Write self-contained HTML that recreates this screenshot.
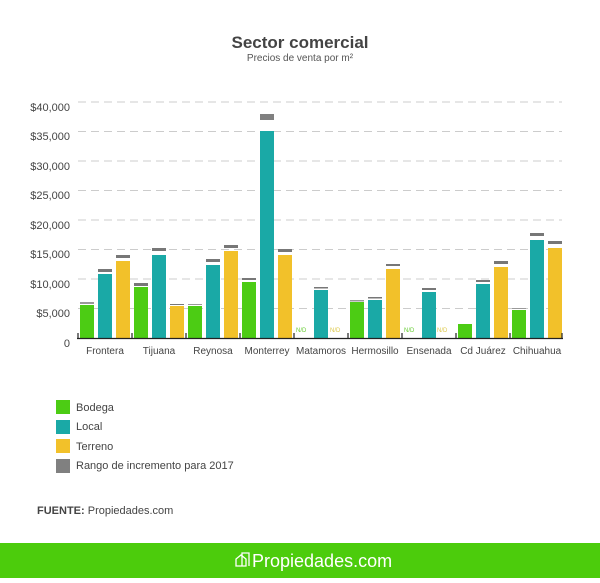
<!DOCTYPE html>
<html><head><meta charset="utf-8"><style>
body{margin:0;background:#fff;width:600px;height:578px;overflow:hidden;font-family:"Liberation Sans",sans-serif}
</style></head><body>
<svg width="600" height="578" xmlns="http://www.w3.org/2000/svg" font-family="Liberation Sans, sans-serif">
<text x="300" y="48" text-anchor="middle" font-size="17" font-weight="bold" fill="#444">Sector comercial</text>
<text x="300" y="61" text-anchor="middle" font-size="10" fill="#555">Precios de venta por m²</text>
<g stroke="#ccc" stroke-dasharray="8,5" stroke-width="1">
<line x1="78" x2="562" y1="102" y2="102"/><line x1="78" x2="562" y1="131.5" y2="131.5"/>
<line x1="78" x2="562" y1="161" y2="161"/><line x1="78" x2="562" y1="190.5" y2="190.5"/>
<line x1="78" x2="562" y1="220" y2="220"/><line x1="78" x2="562" y1="249.5" y2="249.5"/>
<line x1="78" x2="562" y1="279" y2="279"/><line x1="78" x2="562" y1="308.5" y2="308.5"/>
</g>
<g font-size="11" fill="#444" text-anchor="end">
<text x="70" y="111">$40,000</text><text x="70" y="140">$35,000</text><text x="70" y="170">$30,000</text>
<text x="70" y="199">$25,000</text><text x="70" y="229">$20,000</text><text x="70" y="258">$15,000</text>
<text x="70" y="288">$10,000</text><text x="70" y="317">$5,000</text><text x="70" y="347">0</text>
</g>
<g id="bars">
<!-- Frontera gx=78 -->
<rect x="80" y="305" width="14" height="33" fill="#4ccc14"/><rect x="80" y="302" width="14" height="2" fill="#999"/>
<rect x="98" y="274" width="14" height="64" fill="#1aa9a6"/><rect x="98" y="269" width="14" height="3" fill="#777"/>
<rect x="116" y="261" width="14" height="77" fill="#f2c12a"/><rect x="116" y="255" width="14" height="3" fill="#777"/>
<!-- Tijuana gx=132 -->
<rect x="134" y="287" width="14" height="51" fill="#4ccc14"/><rect x="134" y="283" width="14" height="3" fill="#777"/>
<rect x="152" y="255" width="14" height="83" fill="#1aa9a6"/><rect x="152" y="248" width="14" height="3" fill="#777"/>
<rect x="170" y="306" width="14" height="32" fill="#f2c12a"/><rect x="170" y="304" width="14" height="1" fill="#777"/>
<!-- Reynosa gx=186 -->
<rect x="188" y="306" width="14" height="32" fill="#4ccc14"/><rect x="188" y="304" width="14" height="1" fill="#999"/>
<rect x="206" y="265" width="14" height="73" fill="#1aa9a6"/><rect x="206" y="259" width="14" height="3" fill="#777"/>
<rect x="224" y="251" width="14" height="87" fill="#f2c12a"/><rect x="224" y="245" width="14" height="3" fill="#777"/>
<!-- Monterrey gx=240 -->
<rect x="242" y="282" width="14" height="56" fill="#4ccc14"/><rect x="242" y="278" width="14" height="2" fill="#777"/>
<rect x="260" y="131" width="14" height="207" fill="#1aa9a6"/><rect x="260" y="114" width="14" height="6" fill="#808080"/>
<rect x="278" y="255" width="14" height="83" fill="#f2c12a"/><rect x="278" y="249" width="14" height="3" fill="#777"/>
<!-- Matamoros gx=294 -->
<rect x="314" y="290" width="14" height="48" fill="#1aa9a6"/><rect x="314" y="287" width="14" height="1.5" fill="#777"/>
<!-- Hermosillo gx=348 -->
<rect x="350" y="302" width="14" height="36" fill="#4ccc14"/><rect x="350" y="300" width="14" height="1.5" fill="#999"/>
<rect x="368" y="300" width="14" height="38" fill="#1aa9a6"/><rect x="368" y="297" width="14" height="1.5" fill="#777"/>
<rect x="386" y="269" width="14" height="69" fill="#f2c12a"/><rect x="386" y="264" width="14" height="2" fill="#777"/>
<!-- Ensenada gx=402 -->
<rect x="422" y="292" width="14" height="46" fill="#1aa9a6"/><rect x="422" y="288" width="14" height="2" fill="#777"/>
<!-- Cd Juarez gx=456 -->
<rect x="458" y="324" width="14" height="14" fill="#4ccc14"/>
<rect x="476" y="284" width="14" height="54" fill="#1aa9a6"/><rect x="476" y="280" width="14" height="2" fill="#777"/>
<rect x="494" y="267" width="14" height="71" fill="#f2c12a"/><rect x="494" y="261" width="14" height="3" fill="#777"/>
<!-- Chihuahua gx=510 -->
<rect x="512" y="310" width="14" height="28" fill="#4ccc14"/><rect x="512" y="308" width="14" height="1" fill="#999"/>
<rect x="530" y="240" width="14" height="98" fill="#1aa9a6"/><rect x="530" y="233" width="14" height="3" fill="#777"/>
<rect x="548" y="248" width="14" height="90" fill="#f2c12a"/><rect x="548" y="241" width="14" height="3" fill="#777"/>
</g>
<g font-size="6" >
<text x="296" y="332" fill="#6c3">N/D</text><text x="330" y="332" fill="#ddc84a">N/D</text>
<text x="404" y="332" fill="#6c3">N/D</text><text x="437" y="332" fill="#ddc84a">N/D</text>
</g>
<line x1="77" x2="563" y1="338.5" y2="338.5" stroke="#222" stroke-width="1.2"/>
<g stroke="#222" stroke-width="1.2">
<line x1="78" x2="78" y1="333" y2="339"/><line x1="132" x2="132" y1="333" y2="339"/><line x1="186" x2="186" y1="333" y2="339"/>
<line x1="240" x2="240" y1="333" y2="339"/><line x1="294" x2="294" y1="333" y2="339"/><line x1="348" x2="348" y1="333" y2="339"/>
<line x1="402" x2="402" y1="333" y2="339"/><line x1="456" x2="456" y1="333" y2="339"/><line x1="510" x2="510" y1="333" y2="339"/>
<line x1="562" x2="562" y1="333" y2="339"/>
</g>
<g font-size="10" fill="#444" text-anchor="middle">
<text x="105" y="354">Frontera</text><text x="159" y="354">Tijuana</text><text x="213" y="354">Reynosa</text>
<text x="267" y="354">Monterrey</text><text x="321" y="354">Matamoros</text><text x="375" y="354">Hermosillo</text>
<text x="429" y="354">Ensenada</text><text x="483" y="354">Cd Juárez</text><text x="537" y="354">Chihuahua</text>
</g>
<rect x="56" y="400" width="14" height="14" fill="#4ccc14"/>
<rect x="56" y="420" width="14" height="14" fill="#1aa9a6"/>
<rect x="56" y="439" width="14" height="14" fill="#f2c12a"/>
<rect x="56" y="459" width="14" height="14" fill="#808080"/>
<g font-size="11" fill="#444">
<text x="76" y="411">Bodega</text><text x="76" y="430">Local</text><text x="76" y="450">Terreno</text>
<text x="76" y="469">Rango de incremento para 2017</text>
<text x="37" y="514"><tspan font-weight="bold">FUENTE:</tspan> Propiedades.com</text>
</g>
<rect x="0" y="543" width="600" height="35" fill="#4ccc0c"/>
<g fill="none" stroke="#fff" stroke-width="1.3">
<path d="M236 566 L236 559 L241 555 L246 559 L246 566 Z"/><path d="M242 566 L242 553 L249 553 L249 566"/>
</g>
<text x="252" y="567" font-size="18" fill="#fff">Propiedades.com</text>
</svg>
</body></html>
